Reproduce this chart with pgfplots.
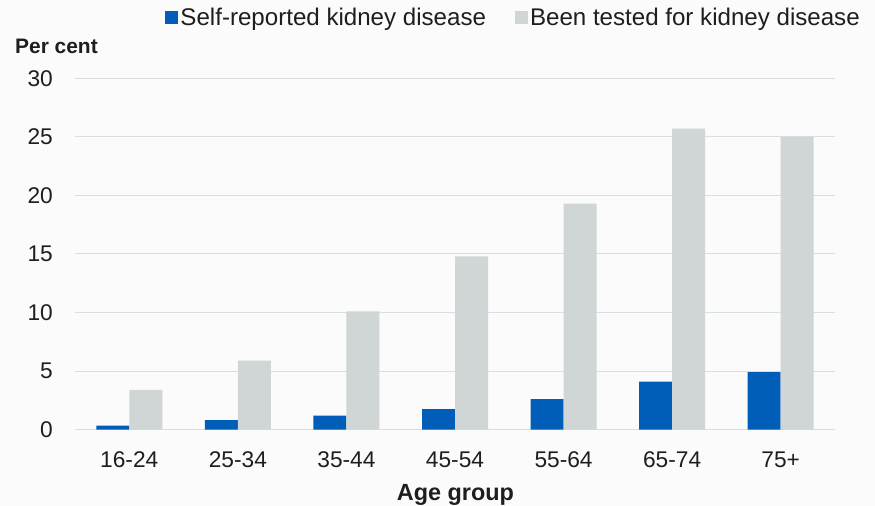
\documentclass[border=0pt]{standalone}
\usepackage{pgfplots}
\pgfplotsset{compat=1.18}
\usepackage{fontspec}
\setmainfont{Liberation Sans}
\definecolor{nhsblue}{HTML}{005EB8}
\definecolor{bargray}{HTML}{D0D6D6}
\definecolor{gridc}{HTML}{D9DEE4}
\definecolor{bgc}{HTML}{FBFBFB}
\definecolor{txt}{HTML}{1E1E1E}
\begin{document}
\begin{tikzpicture}
\fill[bgc] (-75bp,-76.4bp) rectangle (800bp,429.6bp);
\useasboundingbox (-75bp,-76.4bp) rectangle (800bp,429.6bp);
\begin{axis}[
  at={(0,0)}, anchor=south west,
  scale only axis, width=760bp, height=351.3bp,
  xmin=-0.5, xmax=6.5, ymin=0, ymax=30,
  ytick={0,5,...,30},
  xtick={0,...,6},
  xticklabels={16-24,25-34,35-44,45-54,55-64,65-74,75+},
  ybar=0pt, bar width=33bp,
  axis line style={draw=none},
  tick style={draw=none},
  ymajorgrids, major grid style={color=gridc, line width=1bp},
  /pgf/number format/assume math mode=true,
  ticklabel style={font=\fontsize{22.8}{26}\selectfont, text=txt},
  yticklabel style={anchor=east, inner sep=0pt, xshift=-22bp},
  xticklabel style={anchor=north, inner sep=0pt, yshift=-18bp},
  legend columns=2,
  legend style={at={(axis description cs:0.1184,1.173)}, anchor=west,
    draw=none, fill=none, inner sep=0pt, outer sep=0pt,
    font=\fontsize{24.2}{27}\selectfont, text=txt,
    nodes={inner xsep=2.5bp, inner ysep=0pt},
    /tikz/every even column/.append style={column sep=26bp}},
  legend image code/.code={\fill[#1] (0bp,-6.5bp) rectangle (13bp,6.5bp);},
]
\addplot[fill=nhsblue, draw=none] coordinates {(0,0.35) (1,0.8) (2,1.2) (3,1.75) (4,2.6) (5,4.1) (6,4.9)};
\addplot[fill=bargray, draw=none] coordinates {(0,3.4) (1,5.9) (2,10.1) (3,14.8) (4,19.3) (5,25.7) (6,25.0)};
\legend{Self-reported kidney disease, Been tested for kidney disease}
\end{axis}
\node[anchor=west, inner sep=0pt, text=txt, font=\bfseries\fontsize{21}{24}\selectfont] at (-60bp,383.6bp) {Per cent};
\node[anchor=base, inner sep=0pt, text=txt, font=\bfseries\fontsize{23.5}{27}\selectfont] at (380.5bp,-70.4bp) {Age group};
\end{tikzpicture}
\end{document}
